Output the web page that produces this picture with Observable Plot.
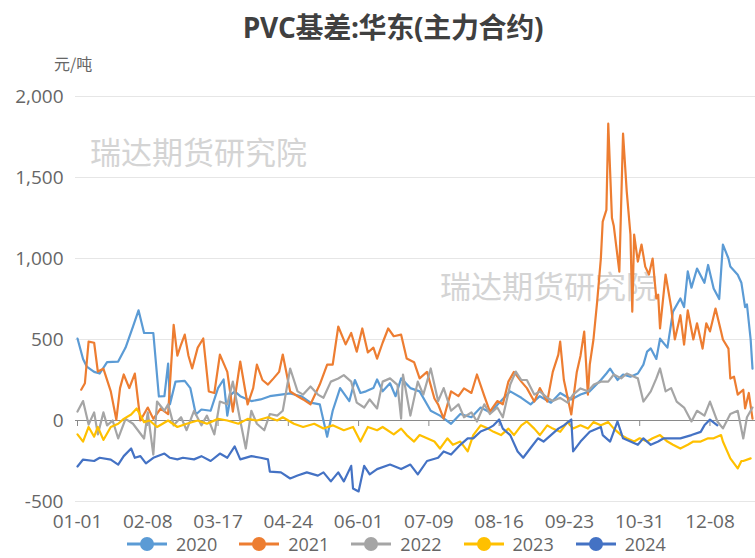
<!DOCTYPE html>
<html><head><meta charset="utf-8">
<script src="https://cdn.jsdelivr.net/npm/d3@7"></script>
<script src="https://cdn.jsdelivr.net/npm/@observablehq/plot@0.6"></script>
<style>
html,body{margin:0;padding:0;background:#fff;}
#wrap{position:relative;width:755px;height:558px;overflow:hidden;font-family:"Open Sans","Noto Sans CJK SC",sans-serif;}
#title{position:absolute;left:0;width:786px;top:9px;text-align:center;font-size:28px;line-height:36px;font-weight:bold;color:#404040;font-family:"Open Sans","Noto Sans CJK SC",sans-serif;letter-spacing:-0.3px;}
#unit{position:absolute;left:54px;top:51px;font-size:16px;color:#666;font-family:"Noto Sans CJK SC",sans-serif;}
.wm{position:absolute;font-size:31px;color:#d4d4d4;font-family:"Noto Sans CJK SC",sans-serif;white-space:nowrap;}
#chart{position:absolute;left:0;top:80px;}
#legend{position:absolute;left:127px;top:534px;height:20px;display:flex;align-items:center;gap:22px;font-size:18px;line-height:20px;color:#666;}
.li{display:flex;align-items:center;gap:9px;}
</style></head>
<body><div id="wrap">
<div class="wm" style="left:90px;top:128px;">瑞达期货研究院</div>
<div class="wm" style="left:440px;top:262px;">瑞达期货研究院</div>
<div id="title">PVC基差:华东(主力合约)</div>
<div id="unit">元/吨</div>
<div id="chart"></div>
<div id="legend"></div>
</div>
<script>
const xLabels = ["01-01","02-08","03-17","04-24","06-01","07-09","08-16","09-23","10-31","12-08"];
const yTicks = [-500, 0, 500, 1000, 1500, 2000];
const years = ["2020","2021","2022","2023","2024"];
const colors = ["#5b9bd5","#ed7d31","#a5a5a5","#ffc000","#4472c4"];

// [day of year (0 = 01-01), basis 元/吨]
const s2020 = [[0,506],[3,380],[5,333],[9,300],[12,290],[16,360],[22,364],[26,450],[30,580],[33,680],[36,540],[41,540],[44,148],[47,150],[49,351],[50,100],[53,240],[58,245],[61,200],[64,37],[67,68],[72,60],[76,200],[79,253],[81,30],[83,160],[85,180],[88,150],[94,120],[99,130],[104,150],[110,160],[115,167],[121,150],[126,110],[131,100],[135,-100],[138,60],[142,200],[147,120],[150,250],[153,170],[156,180],[160,200],[162,253],[165,180],[169,230],[172,150],[175,260],[180,200],[185,180],[191,60],[196,30],[202,-20],[207,40],[213,20],[218,80],[223,50],[229,120],[234,180],[240,140],[245,100],[250,150],[256,110],[261,170],[267,130],[272,160],[277,180],[283,250],[286,290],[288,320],[292,250],[295,284],[299,270],[303,290],[306,345],[308,425],[310,445],[313,380],[315,505],[319,450],[322,672],[326,753],[328,700],[330,920],[332,820],[335,938],[339,850],[341,960],[344,815],[347,750],[349,1086],[352,1000],[353,950],[357,900],[359,850],[361,700],[362,716],[364,500],[365,320]];
const s2021 = [[2,190],[4,230],[6,487],[9,480],[11,302],[14,320],[18,180],[21,5],[23,200],[25,284],[28,200],[31,290],[34,0],[38,80],[41,10],[45,74],[49,40],[52,590],[54,400],[56,469],[58,530],[60,400],[62,321],[65,450],[68,506],[71,179],[74,170],[77,407],[81,300],[84,55],[88,364],[92,99],[95,200],[97,345],[100,250],[103,222],[106,260],[109,300],[111,407],[115,179],[119,150],[122,130],[126,100],[131,222],[135,345],[138,345],[141,580],[145,470],[148,540],[151,425],[154,568],[157,420],[160,450],[162,382],[165,480],[168,568],[171,520],[175,530],[178,383],[182,360],[185,260],[189,300],[193,136],[195,100],[198,12],[202,180],[206,150],[209,198],[213,170],[216,284],[220,150],[223,55],[227,120],[230,100],[233,240],[236,300],[240,240],[243,200],[247,117],[250,200],[254,117],[257,300],[260,407],[261,487],[263,250],[267,37],[270,300],[272,400],[274,549],[276,160],[277,345],[279,500],[281,734],[283,1000],[284,1228],[286,1300],[287,1832],[289,1250],[290,1200],[293,919],[295,1771],[297,1413],[299,1148],[300,672],[301,1148],[303,981],[305,1086],[307,950],[309,901],[311,1000],[313,753],[314,777],[315,568],[318,901],[321,700],[323,500],[326,650],[328,469],[330,680],[333,500],[335,600],[338,444],[340,600],[342,550],[345,691],[348,550],[349,500],[352,444],[353,259],[355,270],[357,160],[360,190],[361,74],[363,170],[365,12]];
const s2022 = [[0,55],[3,120],[6,-25],[9,50],[11,-86],[14,50],[16,-30],[19,0],[22,-111],[26,10],[30,-20],[36,-111],[38,50],[41,-210],[43,117],[47,60],[49,100],[52,-30],[56,20],[59,-60],[63,60],[67,-30],[70,30],[74,-86],[77,117],[81,100],[84,240],[88,0],[91,-173],[94,60],[97,-20],[101,-60],[104,40],[108,30],[111,60],[115,321],[119,180],[122,160],[126,210],[130,160],[133,140],[137,240],[141,259],[144,280],[148,240],[151,110],[155,80],[158,130],[162,74],[165,240],[169,260],[173,220],[175,12],[176,284],[180,30],[184,240],[187,160],[191,321],[195,120],[198,200],[202,60],[206,100],[209,20],[213,50],[216,-6],[220,100],[223,40],[227,80],[230,20],[234,222],[237,302],[240,250],[243,250],[247,160],[250,180],[254,140],[257,120],[261,140],[265,110],[268,160],[272,198],[276,180],[279,220],[283,240],[287,240],[290,284],[294,260],[297,290],[301,270],[303,260],[306,117],[310,180],[313,260],[315,321],[318,180],[321,200],[324,117],[328,80],[332,-6],[335,60],[339,30],[342,117],[346,-6],[349,-49],[353,40],[357,60],[360,-111],[362,20],[365,80]];
const s2023 = [[0,-86],[3,-130],[6,-40],[9,-100],[11,-40],[14,-120],[18,-40],[22,-20],[25,10],[29,37],[32,74],[36,-10],[39,0],[43,-40],[49,0],[54,-40],[59,-20],[65,0],[70,-20],[76,10],[81,0],[87,-20],[92,10],[97,0],[103,20],[108,0],[111,20],[117,-20],[122,-40],[128,-20],[133,-49],[138,-30],[144,-60],[149,-40],[153,-130],[157,-40],[162,-60],[165,-40],[171,-86],[175,-50],[178,-90],[182,-130],[185,-90],[189,-110],[193,-130],[196,-173],[200,-110],[203,-150],[207,-130],[211,-191],[214,-90],[218,-30],[222,-50],[225,-70],[229,-90],[233,-50],[236,-90],[240,-30],[243,-6],[247,-50],[250,-90],[254,-30],[257,-50],[261,-70],[265,-10],[268,-50],[272,-30],[276,-50],[279,-10],[283,-30],[287,-10],[290,-50],[294,-90],[297,-110],[301,-130],[304,-110],[308,-130],[311,-110],[315,-90],[319,-130],[322,-150],[326,-173],[330,-150],[333,-130],[337,-130],[341,-110],[344,-110],[348,-90],[349,-130],[353,-234],[357,-296],[359,-250],[360,-250],[364,-234]];
const s2024 = [[0,-284],[3,-241],[9,-250],[12,-230],[18,-241],[22,-272],[25,-220],[29,-173],[31,-230],[34,-220],[37,-265],[41,-230],[47,-204],[50,-230],[54,-240],[57,-230],[63,-240],[67,-220],[72,-250],[77,-204],[81,-230],[85,-160],[88,-240],[94,-220],[99,-230],[103,-240],[104,-315],[110,-320],[115,-358],[119,-340],[124,-320],[130,-340],[133,-320],[137,-376],[141,-320],[144,-376],[148,-280],[149,-420],[152,-438],[155,-280],[158,-333],[162,-300],[169,-272],[175,-300],[180,-272],[184,-333],[189,-250],[195,-230],[198,-191],[202,-210],[207,-150],[211,-110],[214,-110],[218,-68],[222,-50],[225,-30],[228,6],[230,-50],[234,-90],[238,-191],[241,-230],[245,-170],[249,-110],[252,-130],[256,-90],[260,-50],[263,-30],[267,6],[268,-191],[272,-130],[277,-70],[283,-40],[284,-90],[288,-130],[292,-6],[295,-110],[299,-130],[303,-150],[306,-110],[310,-150],[314,-130],[317,-110],[321,-110],[326,-110],[332,-90],[337,-70],[339,-30],[342,6],[346,-30]];

const seriesList = [s2020, s2021, s2022, s2023, s2024];
const data = years.flatMap((yr, k) => seriesList[k].map(([day, v]) => ({year: yr, day, v})));

const jan1 = new Date(2020, 0, 1);
const xTickDays = xLabels.map(s => {
  const [m, d] = s.split("-").map(Number);
  return d3.timeDay.count(jan1, new Date(2020, m - 1, d));
});
const labelByDay = new Map(xTickDays.map((d, i) => [d, xLabels[i]]));

const chart = Plot.plot({
  width: 755,
  height: 451,
  marginLeft: 77,
  marginRight: 3,
  marginTop: 16,
  marginBottom: 30,
  style: {fontFamily: '"Open Sans","Noto Sans CJK SC",sans-serif', fontSize: "19px", color: "#666", background: "transparent", overflow: "visible"},
  x: {domain: [0, 365]},
  y: {domain: [-500, 2000]},
  color: {domain: years, range: colors},
  marks: [
    Plot.ruleY(yTicks.filter(d => d !== 0), {stroke: "#e6e6e6", strokeWidth: 1, insetLeft: -2, insetRight: -3}),
    Plot.axisY({ticks: yTicks, tickSize: 0, tickPadding: 14, tickFormat: d => d.toLocaleString("en-US"), label: null}),
    Plot.axisX({ticks: xTickDays, tickSize: 0, tickPadding: 13, tickFormat: d => labelByDay.get(d), label: null}),
    Plot.ruleY([0], {stroke: "#8a8a8a", strokeWidth: 1.2, insetLeft: -2, insetRight: -3}),
    Plot.ruleX(xTickDays, {x: d => d, y1: 0, y2: 0, insetBottom: -6, stroke: "#8a8a8a"}),
    Plot.lineY(data, {x: "day", y: "v", z: "year", stroke: "year", strokeWidth: 2.2, strokeLinejoin: "round"})
  ]
});
document.getElementById("chart").appendChild(chart);

const legend = document.getElementById("legend");
years.forEach((yr, k) => {
  const item = document.createElement("div");
  item.className = "li";
  item.innerHTML = `<svg width="40" height="16"><line x1="0" y1="8" x2="40" y2="8" stroke="${colors[k]}" stroke-width="3"/><circle cx="20" cy="8" r="7" fill="${colors[k]}"/></svg><span>${yr}</span>`;
  legend.appendChild(item);
});
</script>
</body></html>
